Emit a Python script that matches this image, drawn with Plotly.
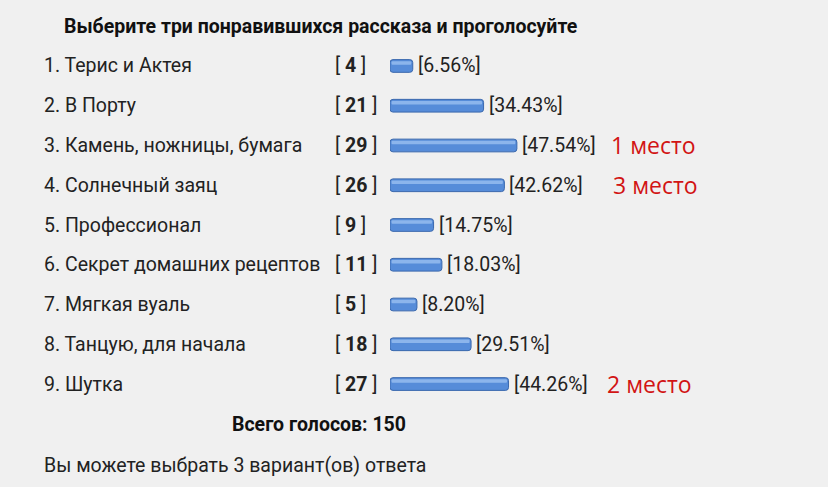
import plotly.graph_objects as go

# poll results
titles = ["1. Терис и Актея", "2. В Порту", "3. Камень, ножницы, бумага",
          "4. Солнечный заяц", "5. Профессионал", "6. Секрет домашних рецептов",
          "7. Мягкая вуаль", "8. Танцую, для начала", "9. Шутка"]
votes = [4, 21, 29, 26, 9, 11, 5, 18, 27]
percents = [6.56, 34.43, 47.54, 42.62, 14.75, 18.03, 8.20, 29.51, 44.26]
places = {2: "1 место", 3: "3 место", 8: "2 место"}
place_x = {2: 609, 3: 611, 8: 605}
total = 150

W, H = 828, 487
font = "Roboto"
fs = 19.5
stub = 2.4  # bars start a little left of zero

fig = go.Figure()
fig.add_trace(go.Bar(
    y=titles, x=[p + stub for p in percents], orientation="h", base=-stub,
    width=0.32,
    marker=dict(color="#568cd9", line=dict(color="#3a68ad", width=1),
                cornerradius=3),
    hoverinfo="skip"))
# lighter strip for the glossy look
fig.add_trace(go.Bar(
    y=titles, x=[p + stub - 1.2 for p in percents], orientation="h",
    base=-stub + 0.6, width=0.09, offset=-0.12,
    marker=dict(color="#8cb5ec", line=dict(width=0), cornerradius=2),
    hoverinfo="skip"))

ann = []
for i, t in enumerate(titles):
    ann.append(dict(x=42 / W, xref="paper", y=t, yref="y", text=t,
                    xanchor="left", showarrow=False,
                    font=dict(family=font, size=fs, color="#222222")))
    ann.append(dict(x=333 / W, xref="paper", y=t, yref="y",
                    text="[ <b>%d</b> ]" % votes[i],
                    xanchor="left", showarrow=False,
                    font=dict(family=font, size=fs, color="#222222")))
    ann.append(dict(x=percents[i], xref="x", y=t, yref="y",
                    text="[%.2f%%]" % percents[i], xshift=3,
                    xanchor="left", showarrow=False,
                    font=dict(family=font, size=fs, color="#222222")))
    if i in places:
        ann.append(dict(x=place_x[i] / W, xref="paper", y=t, yref="y",
                        text=places[i], xanchor="left", showarrow=False,
                        font=dict(family="Open Sans", size=23, color="#d21414")))

ann.append(dict(x=62 / W, xref="paper", y=1 - 26 / H, yref="paper",
                text="<b>Выберите три понравившихся рассказа и проголосуйте</b>",
                xanchor="left", yanchor="middle", showarrow=False,
                font=dict(family=font, size=fs, color="#111111")))
ann.append(dict(x=319 / W, xref="paper", y=1 - 424 / H, yref="paper",
                text="<b>Всего голосов: %d</b>" % total,
                xanchor="center", yanchor="middle", showarrow=False,
                font=dict(family=font, size=fs, color="#111111")))
ann.append(dict(x=42 / W, xref="paper", y=1 - 465 / H, yref="paper",
                text="Вы можете выбрать 3 вариант(ов) ответа",
                xanchor="left", yanchor="middle", showarrow=False,
                font=dict(family=font, size=fs, color="#222222")))

fig.update_layout(
    width=W, height=H, margin=dict(l=0, r=0, t=0, b=0),
    paper_bgcolor="#f0f0f0", plot_bgcolor="#f0f0f0",
    barmode="overlay", showlegend=False, annotations=ann,
    xaxis=dict(domain=[390 / W, 1], range=[-stub, 170], visible=False,
               fixedrange=True),
    yaxis=dict(domain=[(H - 403.9) / H, (H - 46.1) / H],
               range=[8.5, -0.5], visible=False, fixedrange=True),
)

fig.write_html("out.html", config={"displayModeBar": False},
               post_script="document.body.style.margin='0';"
                           "document.body.style.overflow='hidden';")
